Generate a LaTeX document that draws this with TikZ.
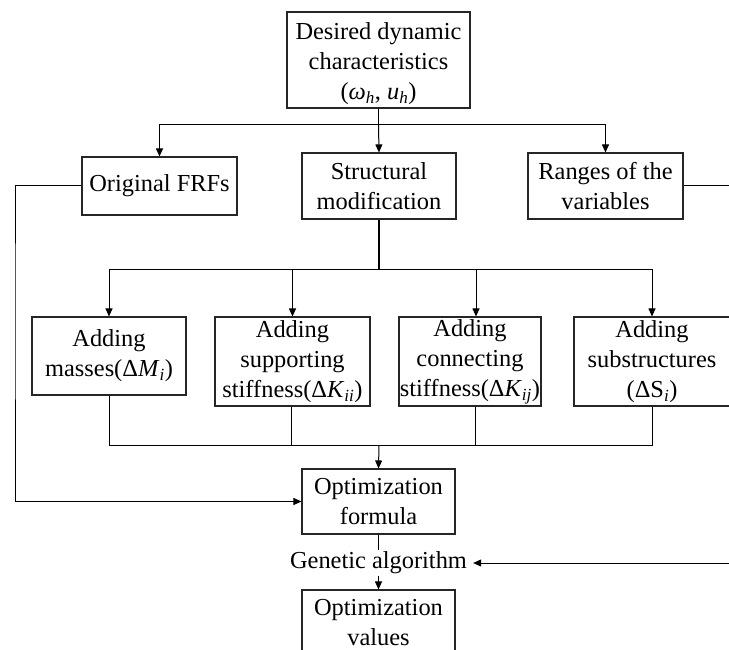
\documentclass[tikz,border=0pt]{standalone}
\usepackage{fontspec}
\setmainfont{Liberation Serif}
\usetikzlibrary{arrows.meta,calc}
\newcommand\dfont{\fontsize{24.4}{30}\selectfont}
\begin{document}
\begin{tikzpicture}[x=1pt,y=-1pt,
  box/.style={draw=black!85,line width=1.1pt,align=center,inner sep=0pt,font=\dfont},
  ln/.style={line width=1pt,draw=black},
  arr/.style={ln,-{Triangle[length=8pt,width=7pt]}},
]
\useasboundingbox (0,0) rectangle (729,650);
\clip (0,0) rectangle (729,650);
% boxes
\node[box,minimum width=183,minimum height=96] (top) at (378.5,60)
  {\raisebox{-4pt}[\height][\depth]{\begin{tabular}{@{}c@{}}Desired dynamic\\characteristics\\(\textit{ω}\textsubscript{\textit{h}}, \textit{u}\textsubscript{\textit{h}})\end{tabular}}};
\node[box,minimum width=155,minimum height=58] (orig) at (159.5,186) {Original FRFs};
\node[box,minimum width=154,minimum height=66] (struct) at (379,186) {Structural\\modification};
\node[box,minimum width=155,minimum height=66] (ranges) at (605.5,186) {Ranges of the\\variables};
\node[box,minimum width=154,minimum height=78] (masses) at (109,356)
  {Adding\\masses(Δ\textit{M}\textsubscript{\textit{i}})};
\node[box,minimum width=155,minimum height=89] (supp) at (292.5,361.5)
  {Adding\\supporting\\stiffness(Δ\textit{K}\textsubscript{\textit{ii}})};
\node[box,minimum width=142,minimum height=89] (conn) at (470,361.5)
  {Adding\\connecting\\stiffness(Δ\textit{K}\textsubscript{\textit{ij}})};
\node[box,minimum width=156,minimum height=89] (sub) at (652,361.5)
  {Adding\\substructures\\(ΔS\textsubscript{\textit{i}})};
\node[box,minimum width=153,minimum height=65] (formula) at (378.5,501.5) {Optimization\\formula};
\node[font=\dfont,inner xsep=6pt,inner ysep=0pt,minimum height=25] (ga) at (378.5,563) {Genetic algorithm};
\node[box,minimum width=153,minimum height=66] (values) at (378.5,623) {Optimization\\values};
% coordinates
\coordinate (t1) at (378.5,125);
\coordinate (s1) at (379,269);
\coordinate (b1) at (379,445);
\coordinate (cl) at (15,300);
\coordinate (cr) at (736,300);
% top distribution
\draw[ln] (top.south) -- (t1);
\draw[arr] (t1) -| (orig.north);
\draw[arr] (t1) -- (struct.north);
\draw[arr] (t1) -| (ranges.north);
% structural modification distribution
\draw[ln,line width=1.8pt] (struct.south) -- (s1);
\draw[arr] (s1) -| (masses.north);
\draw[arr] (s1) -| (supp.north);
\draw[arr] (s1) -| ([xshift=6pt]conn.north);
\draw[arr] (s1) -| (sub.north);
% collection
\draw[ln] (masses.south) -- (masses.south |- b1) -- (sub.south |- b1) -- (sub.south);
\draw[ln] ([xshift=-1.5pt]supp.south) -- ([xshift=-1.5pt]supp.south |- b1);
\draw[ln] ([xshift=5pt]conn.south) -- ([xshift=5pt]conn.south |- b1);
\draw[arr] (b1) -- (formula.north);
% side feeds
\draw[arr] (orig.west) -| (cl) |- (formula.west);
\draw[arr] (ranges.east) -| (cr) |- (ga.east);
% bottom chain
\draw[ln,line width=0.7pt] (formula.south) -- (ga.north);
\draw[arr] (ga.south) -- (values.north);
\end{tikzpicture}
\end{document}
